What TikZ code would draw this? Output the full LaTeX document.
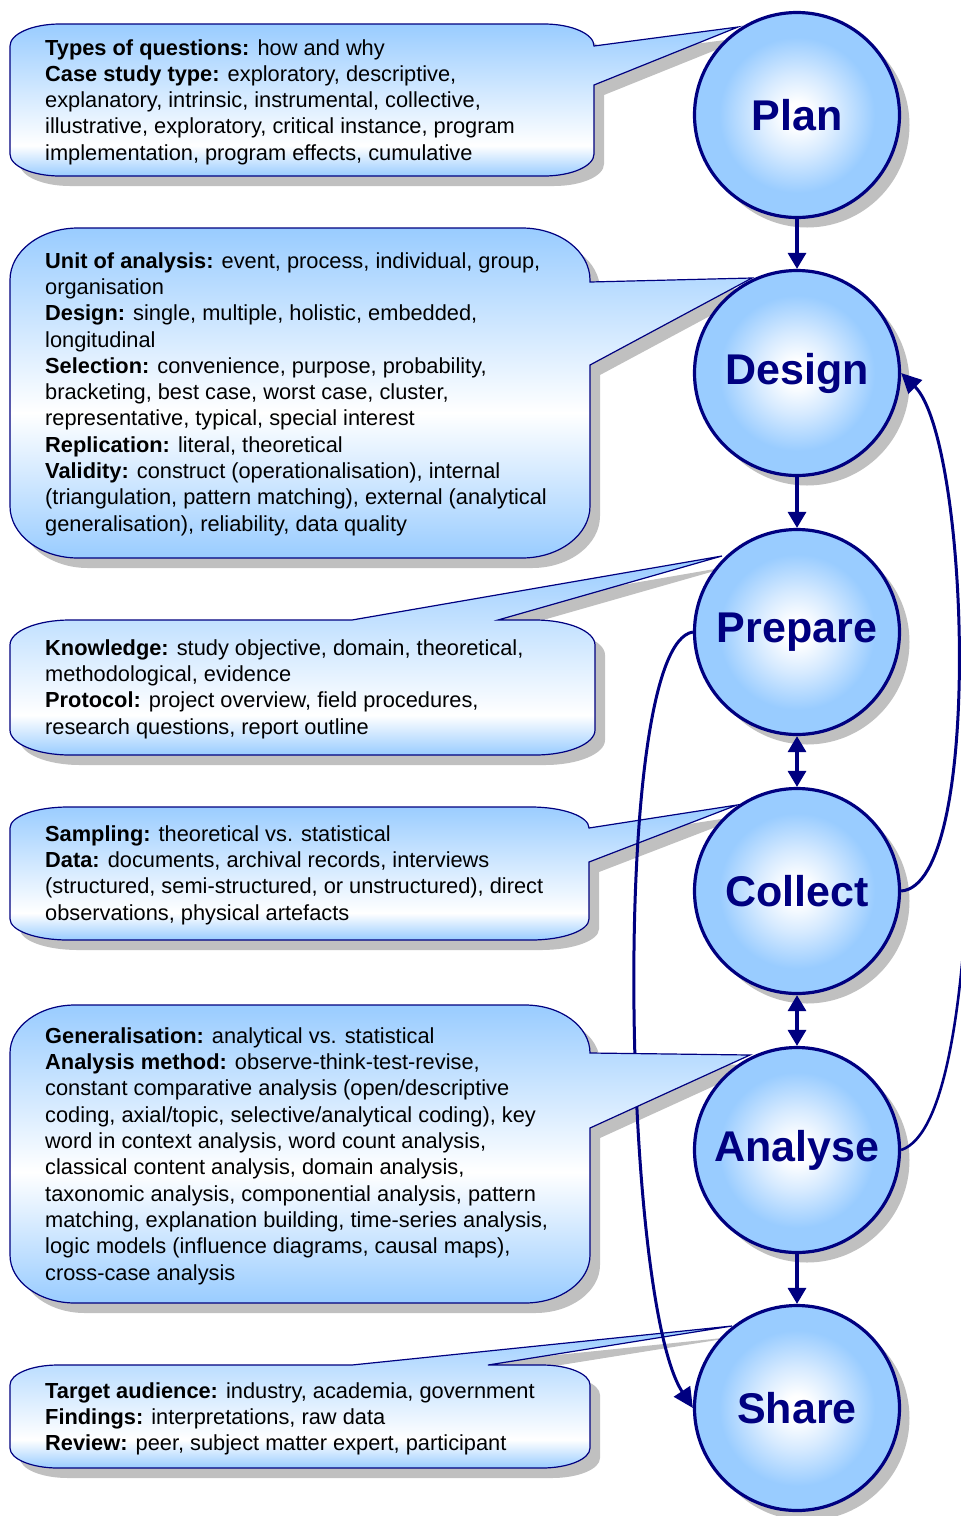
\documentclass[tikz,border=0pt]{standalone}
\usepackage{fontspec}
\setmainfont{Liberation Sans}
\usetikzlibrary{arrows.meta,shadows}
\definecolor{navy}{RGB}{0,0,128}
\definecolor{cblue}{RGB}{153,204,255}
\definecolor{cpale}{RGB}{214,234,255}
\definecolor{shadowgray}{RGB}{192,192,192}
\pgfdeclareverticalshading{shadelow}{100bp}{color(0bp)=(cblue); color(25bp)=(cblue); color(35bp)=(white); color(75bp)=(cblue); color(100bp)=(cblue)}
\pgfdeclareverticalshading{shademid}{100bp}{color(0bp)=(cblue); color(25bp)=(cblue); color(47bp)=(white); color(75bp)=(cblue); color(100bp)=(cblue)}
\pgfdeclareradialshading{ballshade}{\pgfpointorigin}{color(0bp)=(white); color(3bp)=(white); color(10bp)=(cpale); color(19bp)=(cblue); color(50bp)=(cblue)}
\pgfdeclarelayer{back}
\pgfdeclarelayer{front}
\pgfsetlayers{back,main,front}
\newcommand{\cbset}[6]{\def\cbL{#1}\def\cbT{#2}\def\cbR{#3}\def\cbB{#4}\def\cbX{#5}\def\cbY{#6}}
\def\cbrest{-- (\cbR,{\cbB-\cbY}) .. controls (\cbR,{\cbB-0.448*\cbY}) and ({\cbR-0.448*\cbX},\cbB) .. ({\cbR-\cbX},\cbB) -- ({\cbL+\cbX},\cbB) .. controls ({\cbL+0.448*\cbX},\cbB) and (\cbL,{\cbB-0.448*\cbY}) .. (\cbL,{\cbB-\cbY}) -- (\cbL,{\cbT+\cbY}) .. controls (\cbL,{\cbT+0.448*\cbY}) and ({\cbL+0.448*\cbX},\cbT) .. ({\cbL+\cbX},\cbT) -- cycle}
\def\rtail#1#2#3#4{({\cbL+\cbX},\cbT) -- ({\cbR-\cbX},\cbT) .. controls ({\cbR-0.448*\cbX},\cbT) and (\cbR,{\cbT+0.448*\cbY}) .. (\cbR,{\cbT+\cbY}) -- (\cbR,#1) -- (#3,#4) -- (\cbR,#2) \cbrest}
\def\ttail#1#2#3#4{({\cbL+\cbX},\cbT) -- (#1,\cbT) -- (#3,#4) -- (#2,\cbT) -- ({\cbR-\cbX},\cbT) .. controls ({\cbR-0.448*\cbX},\cbT) and (\cbR,{\cbT+0.448*\cbY}) .. (\cbR,{\cbT+\cbY}) \cbrest}
\begin{document}
\begin{tikzpicture}[x=1pt,y=-1pt,
  cshadow/.style={fill=shadowgray, xshift=10pt, yshift=-10pt},
  cbody/.style={draw=navy, line width=1.2pt},
  txt/.style={anchor=west, align=left, inner sep=0pt, font=\fontsize{21.8}{26.3}\selectfont},
  stage/.style={circle, minimum size=205pt, inner sep=0pt, draw=navy, line width=3.2pt,
    shading=ballshade, text=navy, font=\fontsize{43}{50}\selectfont\bfseries,
    drop shadow={shadow xshift=10pt, shadow yshift=-10pt, fill=shadowgray, opacity=1}},
  cflow/.style={draw=navy, line width=3.2pt, -{Triangle[width=18pt,length=16pt]}},
  bflow/.style={draw=navy, line width=3.2pt, {Triangle[width=18pt,length=16pt]}-{Triangle[width=18pt,length=16pt]}},
  backflow/.style={draw=navy, line width=3pt, -{Triangle[width=19pt,length=20pt]}},
  openflow/.style={draw=navy, line width=2.6pt}]
\clip (0,0) rectangle (961,1516);
\begin{pgfonlayer}{back}
\fill[white] (0,0) rectangle (961,1516);
% Plan callout
\cbset{10}{24}{594}{176}{50}{22}
\fill[cshadow] \rtail{46}{85}{738}{27};
\shadedraw[cbody, shading=shadelow] \rtail{46}{85}{738}{27};
\node[txt] (planText) at (45,102) {\textbf{Types of questions:} how and why\\
\textbf{Case study type:} exploratory, descriptive,\\
explanatory, intrinsic, instrumental, collective,\\
illustrative, exploratory, critical instance, program\\
implementation, program effects, cumulative};
% Design callout
\cbset{10}{228}{590}{558}{68}{52}
\fill[cshadow] \rtail{282}{365}{752}{278};
\shadedraw[cbody, shading=shademid] \rtail{282}{365}{752}{278};
\node[txt] (designText) at (45,394) {\textbf{Unit of analysis:} event, process, individual, group,\\
organisation\\
\textbf{Design:} single, multiple, holistic, embedded,\\
longitudinal\\
\textbf{Selection:} convenience, purpose, probability,\\
bracketing, best case, worst case, cluster,\\
representative, typical, special interest\\
\textbf{Replication:} literal, theoretical\\
\textbf{Validity:} construct (operationalisation), internal\\
(triangulation, pattern matching), external (analytical\\
generalisation), reliability, data quality};
% Prepare callout
\cbset{10}{620}{595}{755}{60}{25}
\fill[cshadow] \ttail{352}{498}{722}{556};
\shadedraw[cbody, shading=shadelow] \ttail{352}{498}{722}{556};
\node[txt] (prepareText) at (45,689) {\textbf{Knowledge:} study objective, domain, theoretical,\\
methodological, evidence\\
\textbf{Protocol:} project overview, field procedures,\\
research questions, report outline};
% Collect callout
\cbset{10}{807}{589}{940}{58}{21}
\fill[cshadow] \rtail{828}{862}{737}{805};
\shadedraw[cbody, shading=shadelow] \rtail{828}{862}{737}{805};
\node[txt] (collectText) at (45,875) {\textbf{Sampling:} theoretical vs. statistical\\
\textbf{Data:} documents, archival records, interviews\\
(structured, semi-structured, or unstructured), direct\\
observations, physical artefacts};
% Share callout
\cbset{10}{1365}{590}{1468}{48}{20}
\fill[cshadow] \ttail{352}{488}{732}{1326};
\shadedraw[cbody, shading=shadelow] \ttail{352}{488}{732}{1326};
\node[txt] (shareText) at (45,1419) {\textbf{Target audience:} industry, academia, government\\
\textbf{Findings:} interpretations, raw data\\
\textbf{Review:} peer, subject matter expert, participant};
% Analyse callout shadow
\cbset{10}{1005}{590}{1303}{65}{48}
\fill[cshadow] \rtail{1053}{1128}{750}{1055};
\end{pgfonlayer}
% stages
\node[stage] (plan) at (797,115) {Plan};
\node[stage] (design) at (797,373) {Design};
\node[stage] (prepare) at (797,632) {Prepare};
\node[stage] (collect) at (797,891) {Collect};
\node[stage] (analyse) at (797,1150) {Analyse};
\node[stage] (share) at (797,1408) {Share};
\coordinate (offright) at (968,880);
% connectors
\draw[cflow] (plan.south) -- (design.north);
\draw[cflow] (design.south) -- (prepare.north);
\draw[bflow] (prepare.south) -- (collect.north);
\draw[bflow] (collect.south) -- (analyse.north);
\draw[cflow] (analyse.south) -- (share.north);
\draw[backflow] (collect.east) .. controls +(83,-6) and +(68,67) .. (design.east);
\draw[openflow] (analyse.east) .. controls +(45,-15) and +(-6,120) .. (offright);
\draw[backflow] (prepare.west) .. controls +(-83,13) and +(-71,-108) .. (share.west);
\begin{pgfonlayer}{front}
\cbset{10}{1005}{590}{1303}{65}{48}
\shadedraw[cbody, shading=shademid] \rtail{1053}{1128}{750}{1055};
\node[txt] (analyseText) at (45,1156) {\textbf{Generalisation:} analytical vs. statistical\\
\textbf{Analysis method:} observe-think-test-revise,\\
constant comparative analysis (open/descriptive\\
coding, axial/topic, selective/analytical coding), key\\
word in context analysis, word count analysis,\\
classical content analysis, domain analysis,\\
taxonomic analysis, componential analysis, pattern\\
matching, explanation building, time-series analysis,\\
logic models (influence diagrams, causal maps),\\
cross-case analysis};
\end{pgfonlayer}
\end{tikzpicture}
\end{document}
